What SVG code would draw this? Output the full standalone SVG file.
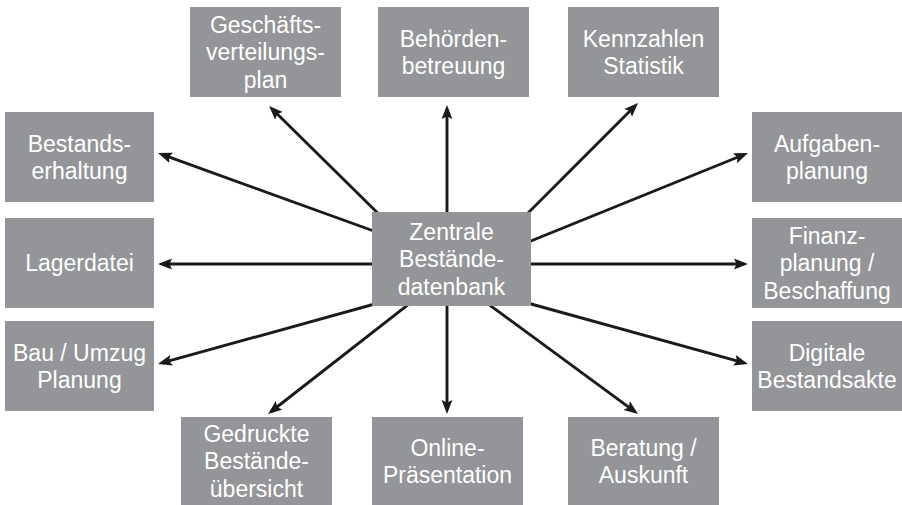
<svg xmlns="http://www.w3.org/2000/svg" width="902" height="505" viewBox="0 0 902 505">
<style>
.box{fill:#939598}
.t{font-family:"Liberation Sans",Arial,Helvetica,sans-serif;font-size:23px;fill:#ffffff;text-anchor:middle}
.c{stroke:#1a1a1a;stroke-width:2.9;fill:none;marker-end:url(#ah)}
</style>
<defs>
<marker id="ah" markerUnits="userSpaceOnUse" markerWidth="16" markerHeight="12" viewBox="0 -6 16 12" refX="10" refY="0" orient="auto">
<path d="M0,-5.4 L14,0 L0,5.4 L2.5,0 Z" fill="#1a1a1a"/>
</marker>
</defs>
<rect width="902" height="505" fill="#ffffff"/>
<g id="connectors">
<line class="c" x1="400" y1="235" x2="271.9" y2="108.8"/>
<line class="c" x1="447" y1="240" x2="447" y2="109"/>
<line class="c" x1="505" y1="236" x2="635.2" y2="105.8"/>
<line class="c" x1="400" y1="240.5" x2="161.8" y2="154.4"/>
<line class="c" x1="505" y1="251.5" x2="744.3" y2="154.5"/>
<line class="c" x1="400" y1="264" x2="162" y2="264"/>
<line class="c" x1="505" y1="264" x2="744" y2="264"/>
<line class="c" x1="400" y1="297" x2="161.9" y2="362.9"/>
<line class="c" x1="505" y1="296.8" x2="744.1" y2="362.9"/>
<line class="c" x1="420" y1="295.3" x2="271.2" y2="411.5"/>
<line class="c" x1="447" y1="290" x2="447" y2="410"/>
<line class="c" x1="475" y1="294.3" x2="634.8" y2="411.6"/>
</g>
<g id="zentrale">
<rect class="box" x="372" y="212" width="159" height="94"/>
<text class="t" x="451.5" y="239.7">Zentrale</text>
<text class="t" x="451.5" y="267.2">Bestände-</text>
<text class="t" x="451.5" y="294.7">datenbank</text>
</g>
<g id="geschaeftsverteilungsplan">
<rect class="box" x="190" y="7" width="151" height="90"/>
<text class="t" x="265.5" y="32.7">Geschäfts-</text>
<text class="t" x="265.5" y="60.2">verteilungs-</text>
<text class="t" x="265.5" y="87.7">plan</text>
</g>
<g id="behoerdenbetreuung">
<rect class="box" x="378" y="7" width="151" height="90"/>
<text class="t" x="453.5" y="46.5">Behörden-</text>
<text class="t" x="453.5" y="74">betreuung</text>
</g>
<g id="kennzahlen">
<rect class="box" x="568" y="7" width="151" height="90"/>
<text class="t" x="643.5" y="46.5">Kennzahlen</text>
<text class="t" x="643.5" y="74">Statistik</text>
</g>
<g id="bestandserhaltung">
<rect class="box" x="5" y="112" width="149" height="90"/>
<text class="t" x="79.5" y="151.5">Bestands-</text>
<text class="t" x="79.5" y="179">erhaltung</text>
</g>
<g id="lagerdatei">
<rect class="box" x="5" y="218" width="149" height="90"/>
<text class="t" x="79.5" y="271.2">Lagerdatei</text>
</g>
<g id="bau">
<rect class="box" x="5" y="321" width="149" height="90"/>
<text class="t" x="79.5" y="360.5">Bau / Umzug</text>
<text class="t" x="79.5" y="388">Planung</text>
</g>
<g id="aufgabenplanung">
<rect class="box" x="752" y="112" width="150" height="90"/>
<text class="t" x="827" y="151.5">Aufgaben-</text>
<text class="t" x="827" y="179">planung</text>
</g>
<g id="finanzplanung">
<rect class="box" x="752" y="218" width="150" height="90"/>
<text class="t" x="827" y="243.7">Finanz-</text>
<text class="t" x="827" y="271.2">planung /</text>
<text class="t" x="827" y="298.7">Beschaffung</text>
</g>
<g id="digitale">
<rect class="box" x="752" y="321" width="150" height="90"/>
<text class="t" x="827" y="360.5">Digitale</text>
<text class="t" x="827" y="388">Bestandsakte</text>
</g>
<g id="gedruckte">
<rect class="box" x="181" y="417" width="151" height="88"/>
<text class="t" x="256.5" y="441.7">Gedruckte</text>
<text class="t" x="256.5" y="469.2">Bestände-</text>
<text class="t" x="256.5" y="496.7">übersicht</text>
</g>
<g id="online">
<rect class="box" x="372" y="417" width="151" height="88"/>
<text class="t" x="447.5" y="455.5">Online-</text>
<text class="t" x="447.5" y="483">Präsentation</text>
</g>
<g id="beratung">
<rect class="box" x="568" y="417" width="151" height="88"/>
<text class="t" x="643.5" y="455.5">Beratung /</text>
<text class="t" x="643.5" y="483">Auskunft</text>
</g>
</svg>
